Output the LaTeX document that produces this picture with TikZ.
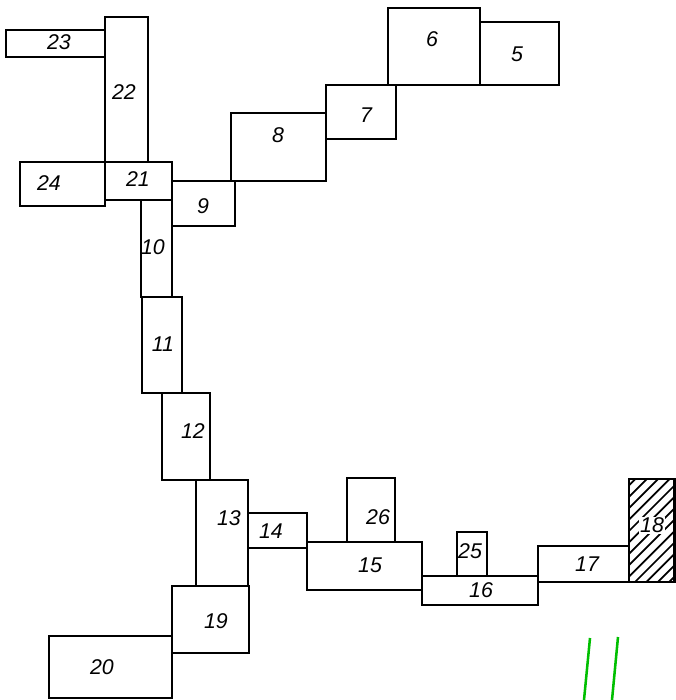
\documentclass[tikz,border=0pt]{standalone}
\usepackage{fontspec}
\setmainfont{Liberation Sans}
\tikzset{
  room/.style={draw=black,line width=1.6pt,line join=miter},
  lbl/.style={font=\fontsize{16}{16}\selectfont\itshape,inner sep=0pt},
  hatchline/.style={draw=black,line width=1.3pt},
  greenline/.style={draw=green!75!black,line width=1.9pt}
}
\newcommand{\room}[6]{%
  \path[room] (#1,#3) rectangle (#2,#4);
  \node[lbl] (n#5) at (#6) {#5};
}
\begin{document}
\begin{tikzpicture}[x=0.75pt,y=-0.75pt]
\useasboundingbox (0,0) rectangle (675,700);
% hatched room 18
\begin{scope}
  \clip (629,479) rectangle (675,582);
  \foreach \k in {0,1,...,14}{
    \draw[hatchline] ({635+11.4*(\k-10)},582) -- ({635+11.4*(\k-10)+103},479);
  }
\end{scope}
\node[lbl,fill=white,inner xsep=0.5pt,inner ysep=0.5pt] (n18) at (652,525.5) {18};
\path[room] (629,479) rectangle (674.5,582);
\room{6}{105}{30}{57}{23}{59,42.5}
\room{105}{148}{17}{162}{22}{124,92.5}
\room{20}{105}{162}{206}{24}{49,183.5}
\room{105}{172}{162}{200}{21}{138,179.5}
\room{172}{235}{181}{226}{9}{203,206.5}
\room{141}{172}{200}{297}{10}{153,247.5}
\room{231}{326}{113}{181}{8}{278,135.5}
\room{326}{396}{85}{139}{7}{366,115.5}
\room{388}{480}{8}{85}{6}{432,39.5}
\room{480}{559}{22}{85}{5}{517,54.5}
\room{142}{182}{297}{393}{11}{163,344.5}
\room{162}{210}{393}{480}{12}{193,431.5}
\room{196}{248}{480}{586}{13}{229,518.5}
\room{248}{307}{513}{548}{14}{271,531.5}
\room{172}{249}{586}{653}{19}{216,621.5}
\room{49}{172}{636}{698}{20}{102,667.5}
\room{307}{422}{542}{590}{15}{370,565.5}
\room{347}{395}{478}{542}{26}{378,517.5}
\room{422}{538}{576}{605}{16}{481,590.5}
\room{457}{487}{532}{576}{25}{470,551.5}
\room{538}{629}{546}{582}{17}{587,564.5}
\draw[greenline] (590,638) -- (584,700);
\draw[greenline] (618,637) -- (612,700);
\end{tikzpicture}
\end{document}
